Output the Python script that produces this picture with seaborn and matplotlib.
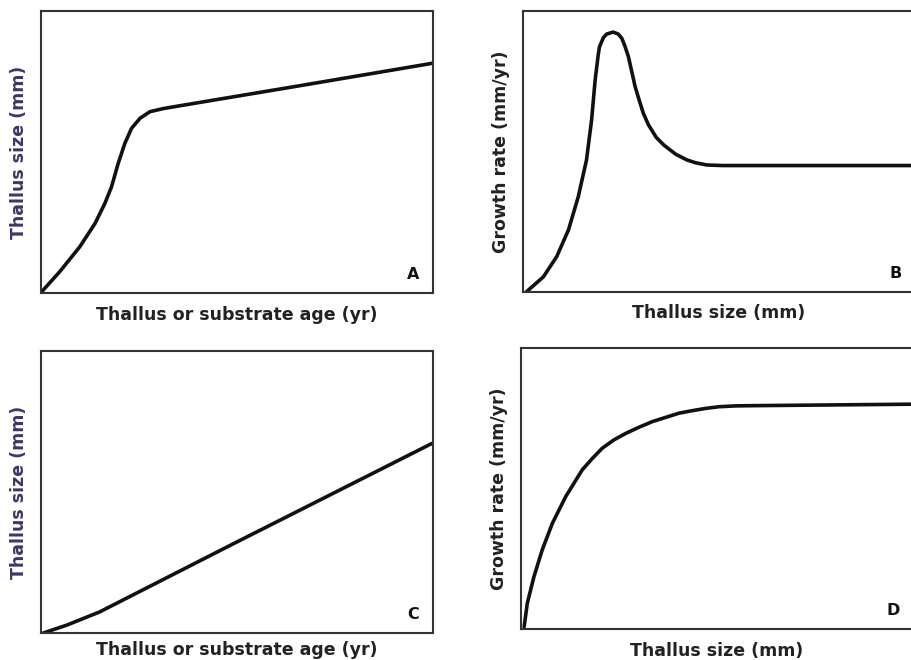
import matplotlib
matplotlib.use("Agg")
import matplotlib.pyplot as plt
import seaborn as sns
import pandas as pd

# Panel A: thallus size vs age
xA = [0.0, 0.006, 0.048, 0.099, 0.138, 0.163, 0.180, 0.197, 0.214, 0.231, 0.253, 0.278, 0.312, 0.35, 0.66, 1.0]
yA = [0.0, 0.011, 0.076, 0.164, 0.247, 0.318, 0.377, 0.46, 0.531, 0.584, 0.62, 0.643, 0.654, 0.663, 0.735, 0.815]
# Panel B: growth rate vs size
xB = [0.009, 0.052, 0.086, 0.116, 0.141, 0.162, 0.175, 0.184, 0.192, 0.195, 0.205, 0.2135, 0.23, 0.243, 0.252,
      0.26, 0.269, 0.286, 0.297, 0.307, 0.32, 0.34, 0.36, 0.39, 0.418, 0.44, 0.469, 0.51, 1.0]
yB = [0.001, 0.054, 0.126, 0.221, 0.339, 0.47, 0.612, 0.754, 0.845, 0.872, 0.905, 0.918, 0.925, 0.918, 0.903,
      0.875, 0.837, 0.731, 0.68, 0.636, 0.595, 0.55, 0.522, 0.49, 0.47, 0.46, 0.452, 0.45, 0.45]
# Panel C: thallus size vs age (linear)
xC = [0.006, 0.066, 0.15, 0.49, 0.997]
yC = [0.0, 0.028, 0.075, 0.316, 0.672]
# Panel D: growth rate vs size (saturating)
xD = [0.008, 0.016, 0.033, 0.054, 0.08, 0.114, 0.156, 0.182, 0.207, 0.237, 0.267, 0.301, 0.335, 0.369, 0.403,
      0.437, 0.471, 0.505, 0.548, 0.607, 0.997]
yD = [0.008, 0.091, 0.186, 0.281, 0.376, 0.471, 0.566, 0.607, 0.643, 0.673, 0.696, 0.718, 0.738, 0.753, 0.768,
      0.777, 0.785, 0.791, 0.794, 0.795, 0.80]

xlab_age = "Thallus or substrate age (yr)"
xlab_size = "Thallus size (mm)"
ylab_size = "Thallus size (mm)"
ylab_rate = "Growth rate (mm/yr)"
letters = ["A", "B", "C", "D"]

sns.set_style("white")
plt.rcParams['font.family'] = ['DejaVu Sans']

fig = plt.figure(figsize=(9.12, 6.6), dpi=100)
W, H = 912, 660
boxes = [(41, 11, 392, 282), (523, 11, 392, 281), (41, 351, 392, 282), (521, 348, 392, 281)]
data = [(xA, yA), (xB, yB), (xC, yC), (xD, yD)]
xlabels = [xlab_age, xlab_size, xlab_age, xlab_size]
ylabels = [ylab_size, ylab_rate, ylab_size, ylab_rate]
ycolors = ["#3b3766", "#222222", "#3b3766", "#222222"]
xpads = [9, 9, 6, 9]

for (l, t, w, h), (xs, ys), xl, yl, yc, let, xp in zip(boxes, data, xlabels, ylabels, ycolors, letters, xpads):
    ax = fig.add_axes([l / W, 1 - (t + h) / H, w / W, h / H])
    df = pd.DataFrame({"x": xs, "y": ys})
    sns.lineplot(data=df, x="x", y="y", ax=ax, color="#111111", linewidth=2.6, sort=False,
                 solid_joinstyle="round", solid_capstyle="round")
    ax.set_xlim(0, 1)
    ax.set_ylim(0, 1)
    ax.set_xticks([])
    ax.set_yticks([])
    for s in ax.spines.values():
        s.set_color("#333333")
        s.set_linewidth(1.5)
        s.set_visible(True)
    ax.set_xlabel(xl, fontsize=12.5, fontweight="bold", color="#222222", labelpad=xp)
    ax.set_ylabel(yl, fontsize=12.5, fontweight="bold", color=yc, labelpad=9)
    ax.text(0.95, 0.065, let, transform=ax.transAxes, fontsize=11.5, fontweight="bold",
            color="#111111", ha="center", va="center")

fig.savefig("out.png", dpi=100)
